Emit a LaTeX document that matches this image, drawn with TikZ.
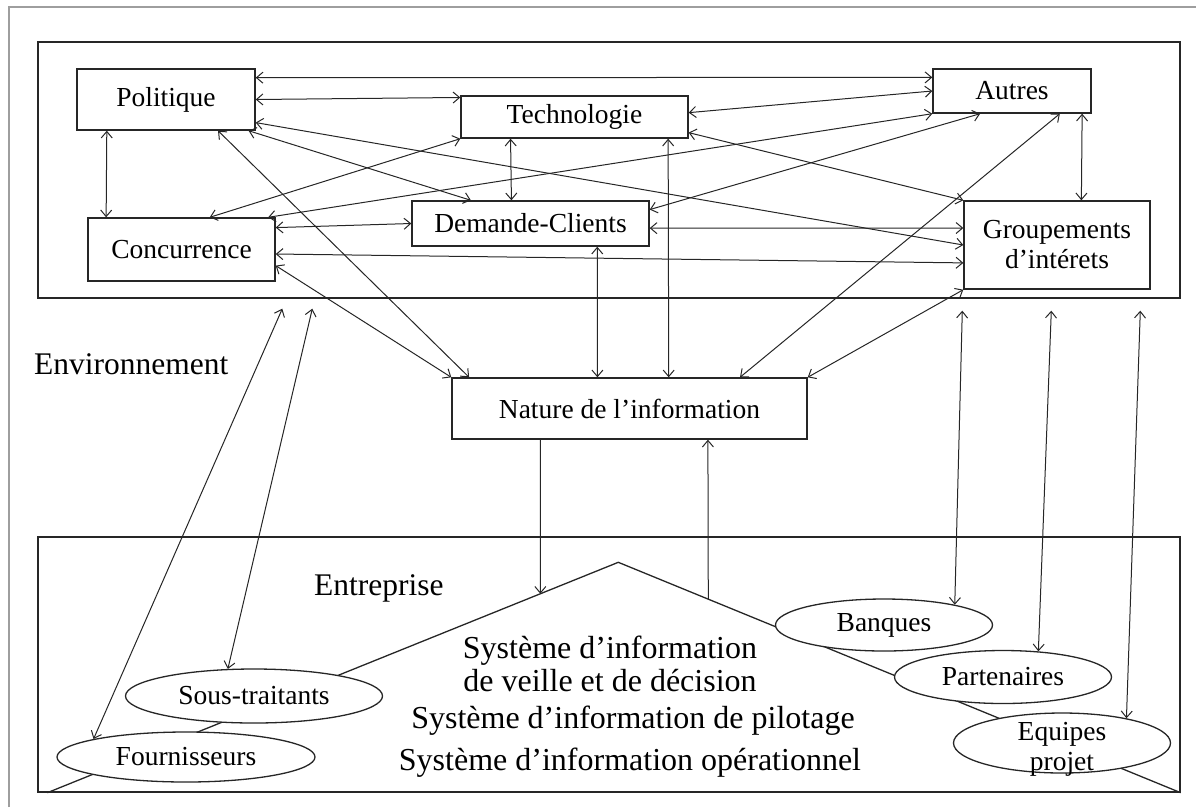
\documentclass[tikz,border=0pt]{standalone}
\usepackage{fontspec}
\setmainfont{Liberation Serif}
\usetikzlibrary{arrows.meta,calc,shapes.geometric}

\newcommand{\labfont}{\fontsize{27.5}{30}\selectfont}
\newcommand{\sysfont}{\fontsize{32}{36}\selectfont}
\newcommand{\zonefont}{\fontsize{31.5}{34}\selectfont}

\begin{document}
\begin{tikzpicture}[x=1pt,y=-1pt,
  frame/.style={draw=black!38,line width=2.4pt},
  zone/.style={rectangle,draw=black!85,line width=1.4pt,inner sep=0pt},
  box/.style={rectangle,draw=black!85,line width=1.4pt,inner sep=0pt,align=center,font=\labfont},
  oval/.style={ellipse,draw=black!85,line width=1.3pt,fill=white,inner sep=0pt,align=center,font=\labfont},
  roof/.style={draw=black!85,line width=1.3pt},
  tip/.tip={Straight Barb[length=6.5pt,width=11pt]},
  link/.style={draw=black!85,line width=1pt,tip-tip},
  flow/.style={draw=black!85,line width=1pt,-tip},
  zonelabel/.style={anchor=base west,inner sep=0pt,font=\zonefont},
  syslabel/.style={anchor=base,inner sep=0pt,font=\sysfont}
]
\useasboundingbox (0,0) rectangle (1196,807);

% outer frame (left and top edges)
\draw[frame] (9,807) -- (9,7) -- (1196,7);

% the two zones
\node[zone,minimum width=1142pt,minimum height=256pt] (env) at (609,170) {};
\node[zone,minimum width=1142pt,minimum height=255pt] (ent) at (609,664.5) {};

% roof of the information systems pyramid
\coordinate (tl) at ($(ent.south west)+(10,0)$);
\coordinate (apex) at ($(ent.north west)+(581,26)$);
\coordinate (tr) at (ent.south east);
\draw[roof] (tl) -- (apex) -- (tr);

% environment actors
\node[box,minimum width=178pt,minimum height=61pt] (pol) at (166,99.5) {Politique};
\node[box,minimum width=227pt,minimum height=42pt] (tec) at (574.5,117) {Technologie};
\node[box,minimum width=158pt,minimum height=44pt] (aut) at (1012,91) {Autres};
\node[box,minimum width=187pt,minimum height=63pt] (con) at (181.5,249.5) {Concurrence};
\node[box,minimum width=237pt,minimum height=45pt] (dem) at (530.5,223.5) {Demande-Clients};
\node[box,minimum width=186pt,minimum height=88pt] (grp) at (1057,245) {Groupements\\d’intérets};
\node[box,minimum width=355pt,minimum height=61pt] (nat) at (629.5,408.5) {Nature de l’information};

% partners of the firm
\node[oval,minimum width=257pt,minimum height=54pt] (sou) at (254,696) {Sous-traitants};
\node[oval,minimum width=258pt,minimum height=50pt] (fou) at (186,757) {Fournisseurs};
\node[oval,minimum width=217pt,minimum height=52pt] (ban) at (884,625) {Banques};
\node[oval,minimum width=217pt,minimum height=53pt] (par) at (1003,677) {Partenaires};
\node[oval,minimum width=217pt,minimum height=60pt] (equ) at (1062,743) {};
\node[align=center,inner sep=0pt,font=\labfont] (equlab) at ($(equ)+(0,6)$) {Equipes\\projet};

% labels
\node[zonelabel] (envlab) at (34,374) {Environnement};
\node[zonelabel] (entlab) at (314,595) {Entreprise};
\node[syslabel] (s1) at (610,658) {Système d’information};
\node[syslabel] (s2) at (610,691) {de veille et de décision};
\node[syslabel] (s3) at (633,728) {Système d’information de pilotage};
\node[syslabel] (s4) at (630,770) {Système d’information opérationnel};

% links between environment actors
\draw[link] ($(pol.north east)!0.15!(pol.south east)$) -- ($(aut.north west)!0.2!(aut.south west)$);
\draw[link] (pol.east) -- ($(tec.north west)!0.05!(tec.south west)$);
\draw[link] ($(tec.north east)!0.4!(tec.south east)$) -- (aut.west);
\draw[link] ($(con.north west)!0.96!(con.north east)$) -- (aut.south west);
\draw[link] ($(con.north west)!0.65!(con.north east)$) -- (tec.south west);
\draw[link] ($(pol.south west)!0.96!(pol.south east)$) -- ($(dem.north west)!0.25!(dem.north east)$);
\draw[link] ($(pol.north east)!0.87!(pol.south east)$) -- (grp.west);
\draw[link] ($(tec.north east)!0.86!(tec.south east)$) -- (grp.north west);
\draw[link] ($(dem.north east)!0.2!(dem.south east)$) -- ($(aut.south west)!0.3!(aut.south east)$);
\draw[link] ($(aut.south west)!0.94!(aut.south east)$) -- ($(grp.north west)!0.63!(grp.north east)$);
\draw[link] ($(pol.south west)!0.17!(pol.south east)$) -- ($(con.north west)!0.10!(con.north east)$);
\draw[link] ($(tec.south west)!0.22!(tec.south east)$) -- ($(dem.north west)!0.42!(dem.north east)$);
\draw[link] ($(con.north east)!0.16!(con.south east)$) -- (dem.west);
\draw[link] ($(dem.north east)!0.6!(dem.south east)$) -- ($(grp.north west)!0.31!(grp.south west)$);
\draw[link] ($(con.north east)!0.57!(con.south east)$) -- ($(grp.north west)!0.70!(grp.south west)$);

% links towards the nature of information
\draw[link] ($(pol.south west)!0.79!(pol.south east)$) -- ($(nat.north west)!0.05!(nat.north east)$);
\draw[link] ($(con.north east)!0.75!(con.south east)$) -- (nat.north west);
\draw[link] ($(dem.south west)!0.78!(dem.south east)$) -- ($(nat.north west)!0.41!(nat.north east)$);
\draw[link] ($(tec.south west)!0.91!(tec.south east)$) -- ($(nat.north west)!0.61!(nat.north east)$);
\draw[link] ($(aut.south west)!0.8!(aut.south east)$) -- ($(nat.north west)!0.81!(nat.north east)$);
\draw[link] (grp.south west) -- (nat.north east);

% exchanges with the information system
\draw[flow] ($(nat.south west)!0.25!(nat.south east)$) -- ($(tl)!0.8635!(apex)$);
\draw[flow] ($(apex)!0.16!(tr)$) -- ($(nat.south west)!0.72!(nat.south east)$);

% partners linked to the environment
\draw[link] ($(env.south west)+(245,10)$) -- (fou.169);
\draw[link] ($(env.south west)+(275,10)$) -- (sou.134);
\draw[link] ($(env.south west)+(925,12)$) -- (ban.16);
\draw[link] ($(env.south west)+(1014,12)$) -- (par.36);
\draw[link] ($(env.south west)+(1103,12)$) -- (equ.21);
\end{tikzpicture}
\end{document}
